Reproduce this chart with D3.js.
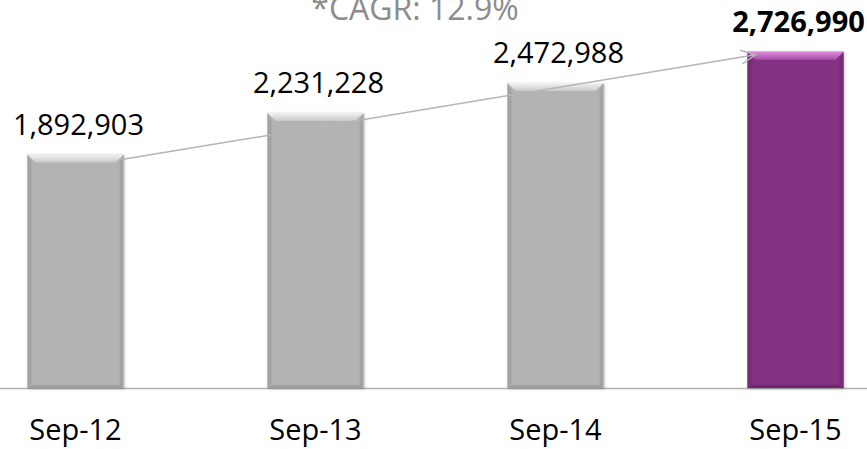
<!DOCTYPE html>
<html lang="en">
<head>
    <meta charset="UTF-8">
    <title>Subscribers Sep-12 to Sep-15</title>
    <script src="https://cdn.jsdelivr.net/npm/d3@7"></script>
    <style>
        body{
            margin: 0;
            background-color: #fff;
        }
        svg text{
            font-family: "Open Sans", sans-serif;
        }
    </style>
</head>
<body>
<script>

    // Chart data
    const periods = ["Sep-12", "Sep-13", "Sep-14", "Sep-15"];
    const values = [1892903, 2231228, 2472988, 2726990];
    const cagrLabel = "*CAGR: 12.9%";

    const width = 867;
    const height = 449;
    const baseline = 388;

    const svg = d3.select("body")
        .append("svg")
        .attr("width", width)
        .attr("height", height);

    // Plot area is wider than the picture, the way the original was cropped
    const x = d3.scaleBand()
        .domain(periods)
        .range([-44.5, 915.5])
        .paddingInner(0.6)
        .paddingOuter(0.3);

    const y = d3.scaleLinear()
        .domain([0, 3000000])
        .range([baseline, baseline - 3000000 / 8110]);

    // Gradients for the bevelled bars
    const defs = svg.append("defs");
    const themes = {
        grey: {main: "#b3b3b3", top: ["#f2f2f2", "#c9c9c9"], side: "#a3a3a3", bottom: "#9e9e9e"},
        purple: {main: "#833383", top: ["#dc8adc", "#a84ea8"], side: "#762c76", bottom: "#6e286e"}
    };
    Object.entries(themes).forEach(([k, t]) => {
        const g = defs.append("linearGradient")
            .attr("id", "top-" + k)
            .attr("x1", 0).attr("y1", 0).attr("x2", 0).attr("y2", 1);
        g.append("stop").attr("offset", "0%").attr("stop-color", t.top[0]);
        g.append("stop").attr("offset", "100%").attr("stop-color", t.top[1]);
    });
    const shadow = defs.append("filter").attr("id", "shadow")
        .attr("x", "-10%").attr("y", "-10%").attr("width", "120%").attr("height", "120%");
    shadow.append("feDropShadow")
        .attr("dx", 1).attr("dy", 1).attr("stdDeviation", 1.5)
        .attr("flood-color", "#000").attr("flood-opacity", 0.25);

    // Axis line
    svg.append("line")
        .attr("x1", 0).attr("x2", width)
        .attr("y1", baseline + 0.5).attr("y2", baseline + 0.5)
        .attr("stroke", "#b0b0b0")
        .attr("stroke-width", 1.5);

    // Bars
    const bev = 8;
    const bars = svg.selectAll("g.bar")
        .data(periods.map((p, i) => ({p, v: values[i], t: i === periods.length - 1 ? "purple" : "grey"})))
        .enter()
        .append("g")
        .attr("class", "bar");

    bars.each(function(d) {
        const g = d3.select(this);
        const t = themes[d.t];
        const x0 = x(d.p), x1 = x0 + x.bandwidth();
        const y0 = y(d.v), y1 = baseline;
        g.append("rect")
            .attr("x", x0).attr("y", y0)
            .attr("width", x1 - x0).attr("height", y1 - y0)
            .attr("fill", t.main)
            .attr("filter", "url(#shadow)");
        // left and right bevel
        g.append("path")
            .attr("d", `M${x0},${y0}L${x0 + bev / 2},${y0 + bev}L${x0 + bev / 2},${y1 - 3}L${x0},${y1}Z`)
            .attr("fill", t.side);
        g.append("path")
            .attr("d", `M${x1},${y0}L${x1 - bev / 2},${y0 + bev}L${x1 - bev / 2},${y1 - 3}L${x1},${y1}Z`)
            .attr("fill", t.side);
        // bottom bevel
        g.append("path")
            .attr("d", `M${x0},${y1}L${x0 + bev / 2},${y1 - 3}L${x1 - bev / 2},${y1 - 3}L${x1},${y1}Z`)
            .attr("fill", t.bottom);
        // top bevel
        g.append("path")
            .attr("d", `M${x0},${y0}L${x1},${y0}L${x1 - bev},${y0 + bev}L${x0 + bev},${y0 + bev}Z`)
            .attr("fill", `url(#top-${d.t})`);
    });

    // Value labels
    svg.selectAll("text.value")
        .data(values)
        .enter()
        .append("text")
        .attr("class", "value")
        .attr("x", (d, i) => x(periods[i]) + x.bandwidth() / 2 + 3)
        .attr("y", d => y(d) - 20)
        .attr("text-anchor", "middle")
        .style("font-size", "29px")
        .style("font-weight", (d, i) => i === values.length - 1 ? "bold" : "normal")
        .attr("fill", "#000")
        .text(d => d3.format(",")(d));

    // Category labels
    svg.selectAll("text.cat")
        .data(periods)
        .enter()
        .append("text")
        .attr("class", "cat")
        .attr("x", d => x(d) + x.bandwidth() / 2)
        .attr("y", 440)
        .attr("text-anchor", "middle")
        .style("font-size", "29px")
        .attr("fill", "#000")
        .text(d => d);

    // CAGR arrow from the first bar to the last one
    const first = values[0], last = values[values.length - 1];
    const ax0 = x(periods[0]) + x.bandwidth() - 2, ay0 = y(first) + 5;
    const ax1 = x(periods[periods.length - 1]) + 8, ay1 = y(last) + 3;
    svg.append("line")
        .attr("x1", ax0).attr("y1", ay0)
        .attr("x2", ax1).attr("y2", ay1)
        .attr("stroke", "#b5b5b5")
        .attr("stroke-width", 1.5);
    const ang = Math.atan2(ay1 - ay0, ax1 - ax0);
    const head = 16, spread = 0.45;
    svg.append("path")
        .attr("d", `M${ax1 - head * Math.cos(ang - spread)},${ay1 - head * Math.sin(ang - spread)}` +
            `L${ax1},${ay1}L${ax1 - head * Math.cos(ang + spread)},${ay1 - head * Math.sin(ang + spread)}`)
        .attr("fill", "none")
        .attr("stroke", "#b5b5b5")
        .attr("stroke-width", 1.5);

    // Title sits partly above the top edge, as in the cropped original
    svg.append("text")
        .attr("x", 415)
        .attr("y", 20)
        .attr("text-anchor", "middle")
        .style("font-size", "32px")
        .attr("fill", "#8c8c8c")
        .text(cagrLabel);

</script>
</body>
</html>
